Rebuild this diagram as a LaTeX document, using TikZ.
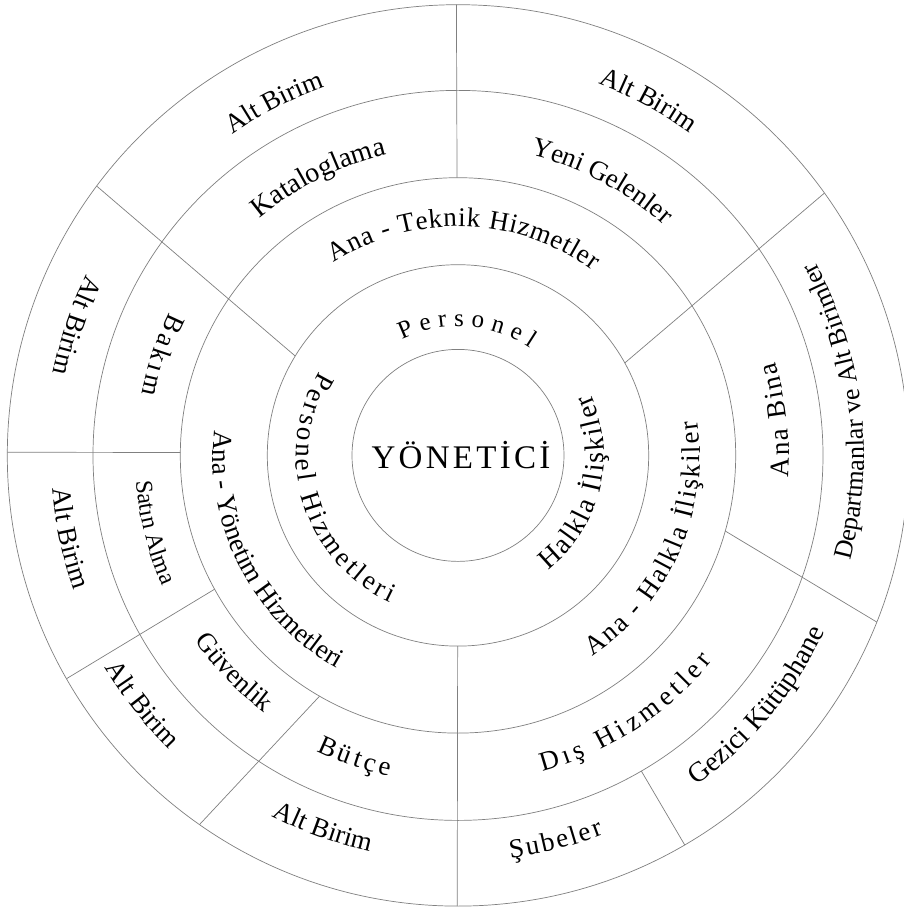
\documentclass[tikz,border=0pt]{standalone}
\usepackage{fontspec}
\setmainfont{Liberation Serif}
\newfontfamily\lsN{Liberation Serif}
\newfontfamily\lsY[LetterSpace=10]{Liberation Serif}
\newcommand\fsz[1]{\fontsize{#1}{#1}\selectfont}
\usetikzlibrary{decorations.text}

% ring radii
\newcommand\ringA{450.7}
\newcommand\ringB{365}
\newcommand\ringC{277.7}
\newcommand\ringD{190.7}
\newcommand\ringE{106}

\tikzset{
  ring/.style={draw=black!50, line width=0.7pt},
  arcchar/.style={inner sep=0pt, anchor=base, text=black},
  arclabel/.style 2 args={decorate,
    decoration={text along path, text align=center, text={|#1|#2}}},
}
% text running clockwise (letters upright, facing outward)
\newcommand\cwlabel[4]{\path[arclabel={#3}{#4}] (#1+90:#2pt)
  arc[start angle=#1+90, end angle=#1-90, radius=#2pt];}
% text running counter-clockwise (letters facing the centre)
\newcommand\ccwlabel[4]{\path[arclabel={#3}{#4}] (#1-90:#2pt)
  arc[start angle=#1-90, end angle=#1+90, radius=#2pt];}

% letter-spaced text on an arc, one node per character
% #1 centre angle, #2 baseline radius, #3 font, #4 tracking (pt),
% #5 direction (1 = counter-clockwise, -1 = clockwise), #6 characters
\newlength\lschw
\newcommand\measurechar[2]{%
  \pgfinterruptpicture\settowidth\lschw{#1#2}\global\lschw=\lschw\endpgfinterruptpicture}
\newcommand\spacedarc[6]{%
  \gdef\arctotal{0}%
  \foreach \ch in {#6}{%
    \measurechar{#3}{\ch}%
    \pgfmathsetmacro\newtot{\arctotal+\lschw+#4}%
    \global\let\arctotal\newtot}%
  \pgfmathsetmacro\arcstart{#1-(#5)*(\arctotal-#4)/2/#2*180/pi}%
  \global\let\arcpos\arcstart
  \foreach \ch in {#6}{%
    \measurechar{#3}{\ch}%
    \pgfmathsetmacro\chang{\arcpos+(#5)*\lschw/2/#2*180/pi}%
    \pgfmathsetmacro\chrot{\chang+(#5)*90}%
    \node[arcchar, font=#3, rotate=\chrot] at (\chang:#2pt) {\ch};
    \pgfmathsetmacro\newpos{\arcpos+(#5)*(\lschw+#4)/#2*180/pi}%
    \global\let\arcpos\newpos}%
}

\begin{document}
\begin{tikzpicture}[x=1pt, y=1pt]
\useasboundingbox (-458,-456.6) rectangle (445,455.4);
\fill[white] (-458,-456.6) rectangle (445,455.4);
\coordinate (O) at (0,0);

% concentric rings
\foreach \r in {\ringA,\ringB,\ringC,\ringD,\ringE}
  \draw[ring] (O) circle[radius=\r pt];

% dividing lines
\draw[ring] (90.2:\ringC pt) -- (90.2:\ringA pt);
\draw[ring] (148.6:\ringD pt) -- (143.3:\ringA pt);
\draw[ring] (29.0:\ringD pt) -- (35.6:\ringA pt);
\draw[ring] (-15.8:\ringC pt) -- (-21.7:\ringA pt);
\draw[ring] (-59.85:\ringB pt) -- (-59.8:\ringA pt);
\draw[ring] (-90.1:\ringD pt) -- (-90.1:\ringA pt);
\draw[ring] (240.1:\ringC pt) -- (235.0:\ringA pt);
\draw[ring] (208.8:\ringC pt) -- (209.7:\ringA pt);
\draw[ring] (179.4:\ringC pt) -- (179.6:\ringA pt);

% centre
\node[font=\lsY\fsz{33}, anchor=base, inner sep=0pt] (yon) at (3,-12.9) {YÖNETİCİ};

% inner ring
\spacedarc{85.8}{129}{\lsN\fsz{25}}{7}{-1}{P,e,r,s,o,n,e,l}
\spacedarc{197}{162}{\lsN\fsz{27}}{3.2}{1}{P,e,r,s,o,n,e,l,~,H,i,z,m,e,t,l,e,r,i}
\spacedarc{-13.5}{146}{\lsN\fsz{28}}{1.8}{1}{H,a,l,k,l,a,~,İ,l,i,ş,k,i,l,e,r}

% main departments
\spacedarc{88.3}{229}{\lsN\fsz{27}}{0.8}{-1}{A,n,a,~,-,~,T,e,k,n,i,k,~,H,i,z,m,e,t,l,e,r}
\spacedarc{-24}{242}{\lsN\fsz{27}}{2}{1}{A,n,a,~,-,~,H,a,l,k,l,a,~,İ,l,i,ş,k,i,l,e,r}
\ccwlabel{207.3}{245}{\lsN\fsz{27}}{Ana - Yönetim Hizmetleri}

% sections
\cwlabel{116.6}{309}{\lsN\fsz{28}}{Kataloglama}
\cwlabel{62.3}{309}{\lsN\fsz{27}}{Yeni Gelenler}
\spacedarc{6.3}{331}{\lsN\fsz{27}}{2}{1}{A,n,a,~,B,i,n,a}
\spacedarc{-57}{327}{\lsN\fsz{27}}{4.5}{1}{D,ı,ş,~,H,i,z,m,e,t,l,e,r}
\spacedarc{251.1}{328}{\lsN\fsz{27}}{3.5}{1}{B,ü,t,ç,e}
\ccwlabel{224.1}{322}{\lsN\fsz{27}}{Güvenlik}
\ccwlabel{194.2}{323}{\lsN\fsz{24}}{Satın Alma}
\spacedarc{161.3}{322}{\lsN\fsz{27}}{3.5}{1}{B,a,k,ı,m}

% sub-units
\cwlabel{117.5}{392}{\lsN\fsz{27}}{Alt Birim}
\cwlabel{61.8}{397}{\lsN\fsz{27}}{Alt Birim}
\ccwlabel{6.7}{406}{\lsN\fsz{26}}{Departmanlar ve Alt Birimler}
\ccwlabel{-39.9}{407}{\lsN\fsz{28}}{Gezici Kütüphane}
\spacedarc{-75.8}{406}{\lsN\fsz{27}}{2.3}{1}{Ş,u,b,e,l,e,r}
\ccwlabel{250.1}{406}{\lsN\fsz{27}}{Alt Birim}
\ccwlabel{218.3}{412}{\lsN\fsz{27}}{Alt Birim}
\ccwlabel{192}{407}{\lsN\fsz{27}}{Alt Birim}
\ccwlabel{161.2}{413}{\lsN\fsz{27}}{Alt Birim}
\end{tikzpicture}
\end{document}
